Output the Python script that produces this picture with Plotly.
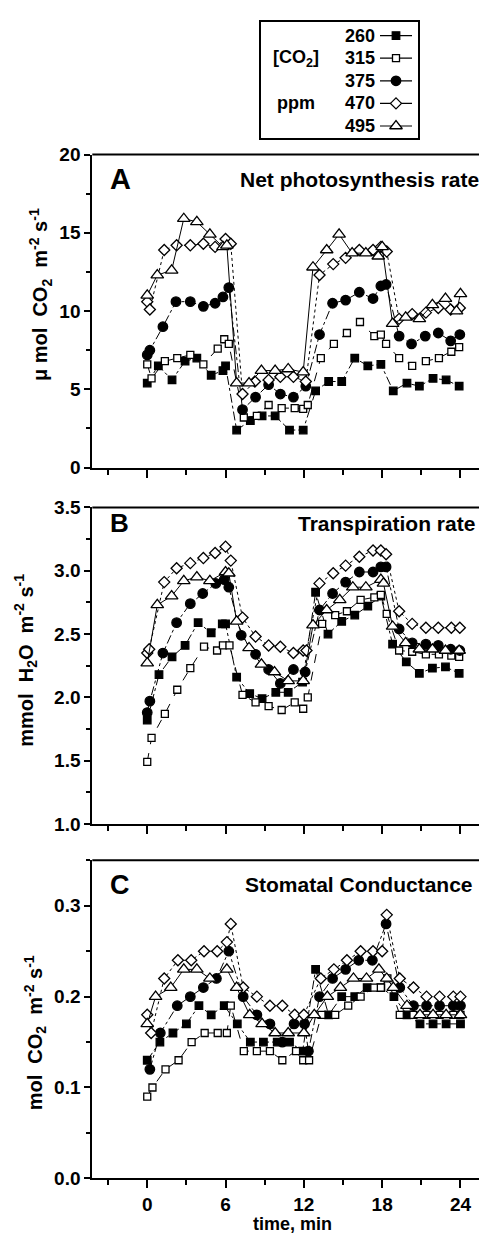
import plotly.graph_objects as go

W, H = 479, 1239

# ---------------- data ----------------
SERIES = ["260", "315", "375", "470", "495"]

# Panel A: Net photosynthesis rate (umol CO2 m-2 s-1)
A_260_t = [0, 0.85, 1.9, 2.9, 3.8, 4.9, 5.8, 6.0, 6.85, 7.9, 8.8, 9.8, 10.9, 11.95, 12.9, 13.9, 14.9, 15.9, 16.9, 17.9, 18.85, 19.9, 20.85, 21.9, 22.9, 23.9]
A_260_v = [5.4, 6.5, 5.6, 6.8, 7.0, 5.9, 6.2, 6.5, 2.4, 3.0, 3.3, 3.3, 2.4, 2.4, 4.9, 5.5, 5.5, 7.0, 6.5, 6.6, 4.9, 5.4, 5.2, 5.7, 5.6, 5.2]
A_315_t = [0, 0.33, 1.35, 2.3, 3.3, 4.3, 5.4, 5.9, 6.25, 7.4, 8.4, 9.3, 10.3, 11.3, 11.95, 12.3, 13.3, 14.3, 15.3, 16.3, 17.4, 17.9, 18.3, 19.3, 20.3, 21.35, 22.35, 23.3, 23.9]
A_315_v = [6.6, 5.7, 6.8, 7.0, 7.2, 6.6, 7.6, 8.2, 7.9, 3.2, 3.3, 4.0, 3.8, 3.8, 3.75, 4.0, 7.0, 7.9, 8.6, 9.3, 8.4, 8.5, 7.9, 7.0, 6.5, 6.8, 7.0, 7.4, 7.7]
A_375_t = [0, 0.2, 1.2, 2.2, 3.3, 4.3, 5.2, 5.8, 6.25, 7.3, 8.3, 9.3, 10.2, 11.2, 12.15, 13.2, 14.2, 15.2, 16.25, 17.3, 17.9, 18.3, 19.3, 20.25, 21.3, 22.3, 23.25, 23.95]
A_375_v = [7.2, 7.5, 9.0, 10.6, 10.6, 10.3, 10.5, 10.9, 11.5, 3.7, 4.5, 5.3, 4.7, 4.5, 5.2, 8.5, 10.5, 10.7, 11.2, 10.8, 11.6, 11.7, 8.4, 7.9, 8.4, 8.6, 8.1, 8.5]
A_470_t = [0, 0.2, 1.3, 2.25, 3.3, 4.3, 5.2, 6.0, 6.4, 7.3, 8.25, 9.3, 10.2, 11.2, 12.15, 13.2, 14.25, 15.2, 16.25, 17.3, 17.9, 18.35, 19.3, 20.3, 21.35, 22.3, 23.25, 23.95]
A_470_v = [10.6, 10.1, 13.9, 14.2, 14.2, 14.3, 14.1, 14.6, 14.3, 4.7, 5.5, 5.6, 5.8, 5.8, 5.5, 12.3, 13.0, 13.4, 13.9, 13.9, 14.1, 13.8, 9.5, 9.8, 9.9, 10.2, 10.1, 10.2]
A_495_t = [0, 0.77, 1.87, 2.8, 3.8, 4.8, 5.8, 6.1, 6.85, 7.8, 8.75, 9.8, 10.8, 11.95, 12.7, 13.75, 14.7, 15.7, 16.75, 17.7, 18.0, 18.8, 19.8, 20.85, 21.85, 22.85, 23.7, 24.0]
A_495_v = [11.0, 12.3, 12.6, 15.9, 15.7, 14.9, 14.1, 14.2, 5.4, 5.4, 6.2, 6.2, 6.3, 6.1, 12.8, 13.9, 14.9, 13.7, 13.7, 13.5, 14.1, 9.2, 9.6, 9.5, 10.4, 10.8, 10.0, 11.1]

# Panel B: Transpiration rate (mmol H2O m-2 s-1)
B_260_t = [0, 0.9, 1.9, 2.9, 3.9, 4.9, 5.75, 6.0, 6.85, 7.85, 8.8, 9.85, 10.8, 11.9, 12.9, 13.85, 14.9, 15.9, 16.9, 17.9, 18.8, 19.85, 20.85, 21.85, 22.85, 23.9]
B_260_v = [1.82, 2.18, 2.32, 2.41, 2.59, 2.51, 2.58, 2.58, 2.16, 2.03, 1.99, 2.04, 2.04, 2.12, 2.83, 2.50, 2.60, 2.65, 2.72, 2.80, 2.42, 2.28, 2.19, 2.23, 2.24, 2.19]
B_315_t = [0, 0.33, 1.35, 2.3, 3.3, 4.35, 5.35, 5.8, 6.3, 7.3, 8.3, 9.3, 10.3, 11.3, 11.95, 12.3, 13.4, 14.4, 15.3, 16.35, 17.4, 17.9, 18.35, 19.3, 20.3, 21.35, 22.35, 23.3, 23.9]
B_315_v = [1.49, 1.68, 1.87, 2.06, 2.23, 2.40, 2.37, 2.41, 2.41, 2.02, 1.96, 1.93, 1.90, 1.96, 1.91, 2.00, 2.58, 2.65, 2.68, 2.77, 2.79, 2.81, 2.66, 2.37, 2.36, 2.34, 2.34, 2.33, 2.32]
B_375_t = [0, 0.2, 1.2, 2.25, 3.3, 4.25, 5.25, 5.9, 6.25, 7.2, 8.3, 9.3, 10.2, 11.2, 12.1, 13.2, 14.2, 15.2, 16.25, 17.3, 17.9, 18.3, 19.3, 20.3, 21.35, 22.3, 23.25, 23.95]
B_375_v = [1.88, 1.97, 2.35, 2.59, 2.74, 2.82, 2.90, 2.93, 2.87, 2.49, 2.34, 2.22, 2.11, 2.22, 2.20, 2.69, 2.82, 2.91, 2.99, 2.99, 3.03, 3.03, 2.54, 2.43, 2.42, 2.41, 2.38, 2.37]
B_470_t = [0, 0.15, 1.3, 2.25, 3.3, 4.3, 5.2, 6.0, 6.4, 7.3, 8.3, 9.3, 10.2, 11.2, 11.95, 12.2, 13.2, 14.25, 15.2, 16.25, 17.3, 17.9, 18.3, 19.3, 20.3, 21.35, 22.3, 23.3, 23.95]
B_470_v = [2.35, 2.38, 2.91, 3.02, 3.06, 3.10, 3.14, 3.19, 3.08, 2.63, 2.48, 2.41, 2.40, 2.35, 2.37, 2.37, 2.90, 2.98, 3.04, 3.11, 3.16, 3.16, 3.13, 2.68, 2.58, 2.55, 2.55, 2.55, 2.55]
B_495_t = [0, 0.77, 1.87, 2.8, 3.8, 4.8, 6.0, 6.25, 6.85, 7.8, 8.75, 9.75, 10.8, 11.95, 12.7, 13.75, 14.75, 15.75, 16.75, 17.9, 18.1, 18.8, 19.8, 20.85, 21.85, 22.85, 23.9]
B_495_v = [2.27, 2.73, 2.80, 2.92, 2.95, 2.92, 2.99, 2.98, 2.60, 2.39, 2.26, 2.20, 2.13, 2.13, 2.57, 2.69, 2.77, 2.87, 2.87, 2.93, 2.90, 2.56, 2.43, 2.38, 2.38, 2.37, 2.37]

# Panel C: Stomatal conductance (mol CO2 m-2 s-1)
C_260_t = [0, 0.97, 1.97, 3.0, 3.96, 4.9, 5.9, 6.9, 7.9, 8.9, 9.96, 10.9, 11.9, 12.9, 13.9, 14.9, 15.9, 16.85, 17.9, 18.9, 19.9, 20.9, 21.9, 22.9, 24.0]
C_260_v = [0.13, 0.15, 0.16, 0.17, 0.19, 0.18, 0.19, 0.17, 0.15, 0.15, 0.15, 0.15, 0.14, 0.23, 0.18, 0.20, 0.20, 0.21, 0.21, 0.20, 0.18, 0.17, 0.17, 0.17, 0.17]
C_315_t = [0, 0.4, 1.4, 2.4, 3.4, 4.4, 5.4, 6.1, 6.4, 7.4, 8.4, 9.4, 10.35, 11.4, 11.95, 12.4, 13.35, 14.4, 15.4, 16.35, 17.4, 17.9, 18.4, 19.35, 20.4, 21.4, 22.4, 23.45, 24.0]
C_315_v = [0.09, 0.10, 0.12, 0.13, 0.15, 0.16, 0.16, 0.16, 0.19, 0.14, 0.14, 0.14, 0.13, 0.14, 0.13, 0.13, 0.18, 0.18, 0.19, 0.20, 0.21, 0.21, 0.22, 0.18, 0.18, 0.18, 0.18, 0.18, 0.18]
C_375_t = [0.2, 1.0, 2.3, 3.3, 4.3, 5.3, 6.25, 7.35, 8.4, 9.4, 10.35, 11.25, 12.05, 12.35, 13.2, 14.2, 15.2, 16.2, 17.25, 18.3, 19.35, 20.4, 21.4, 22.4, 23.45, 24.0]
C_375_v = [0.12, 0.16, 0.19, 0.20, 0.21, 0.22, 0.25, 0.20, 0.18, 0.17, 0.15, 0.17, 0.17, 0.14, 0.20, 0.22, 0.23, 0.24, 0.24, 0.28, 0.21, 0.19, 0.19, 0.19, 0.19, 0.19]
C_470_t = [0, 0.3, 1.3, 2.35, 3.37, 4.35, 5.36, 6.1, 6.4, 7.35, 8.4, 9.4, 10.35, 11.3, 12.0, 13.3, 14.3, 15.3, 16.35, 17.3, 18.0, 18.35, 19.35, 20.4, 21.4, 22.4, 23.45, 24.0]
C_470_v = [0.18, 0.16, 0.22, 0.24, 0.24, 0.25, 0.25, 0.26, 0.28, 0.21, 0.20, 0.19, 0.19, 0.18, 0.18, 0.22, 0.23, 0.24, 0.25, 0.25, 0.25, 0.29, 0.22, 0.21, 0.20, 0.20, 0.20, 0.20]
C_495_t = [0, 0.64, 1.8, 2.8, 3.8, 4.8, 6.1, 6.85, 7.85, 8.8, 9.8, 10.8, 12.0, 12.8, 13.8, 14.8, 15.8, 16.8, 17.75, 18.35, 18.85, 19.9, 20.9, 21.9, 22.9, 24.0]
C_495_v = [0.17, 0.20, 0.21, 0.23, 0.23, 0.22, 0.23, 0.21, 0.18, 0.17, 0.16, 0.16, 0.16, 0.18, 0.20, 0.21, 0.22, 0.22, 0.23, 0.22, 0.21, 0.19, 0.18, 0.18, 0.18, 0.18]

PANEL_LETTERS = ["A", "B", "C"]
PANEL_TITLES = ["Net photosynthesis rate", "Transpiration rate", "Stomatal Conductance"]
Y_TITLES = ["\u03bc mol\u00a0\u00a0CO<sub>2</sub>\u00a0\u00a0m<sup>-2</sup> s<sup>-1</sup>",
            "mmol\u00a0\u00a0H<sub>2</sub>O\u00a0\u00a0m<sup>-2</sup> s<sup>-1</sup>",
            "mol\u00a0\u00a0CO<sub>2</sub>\u00a0\u00a0m<sup>-2</sup> s<sup>-1</sup>"]
X_TICKS = [0, 6, 12, 18, 24]
X_TITLE = "time, min"

PANEL_DATA = [
    [(A_260_t, A_260_v), (A_315_t, A_315_v), (A_375_t, A_375_v), (A_470_t, A_470_v), (A_495_t, A_495_v)],
    [(B_260_t, B_260_v), (B_315_t, B_315_v), (B_375_t, B_375_v), (B_470_t, B_470_v), (B_495_t, B_495_v)],
    [(C_260_t, C_260_v), (C_315_t, C_315_v), (C_375_t, C_375_v), (C_470_t, C_470_v), (C_495_t, C_495_v)],
]

# ---------------- styles ----------------
STYLE = {
    "260": dict(symbol="square", size=7.5, fill="black", dash="dashdot"),
    "315": dict(symbol="square", size=7, fill="white", dash="dash"),
    "375": dict(symbol="circle", size=9.5, fill="black", dash="dashdot"),
    "470": dict(symbol="diamond", size=8.5, fill="white", dash="dot"),
    "495": dict(symbol="triangle-up", size=11, fill="white", dash="solid"),
}

FONT = "Liberation Sans, Arial, sans-serif"


def py(p):
    return 1 - p / H


def px(p):
    return p / W


X_DOM = [px(92.3), 1.0]
PANEL_PIX = [(147, 465.5), (506, 828), (865, 1188.5)]
Y_RANGES = [[0, 20], [1, 3.5], [0, 0.35]]
Y_DTICK = [5, 0.5, 0.1]
Y_FMT = ["d", ".1f", ".1f"]
X_RANGE = [-4.21, 25.42]

fig = go.Figure()

for i, series in enumerate(PANEL_DATA):
    xa = "x" if i == 0 else f"x{i+1}"
    ya = "y" if i == 0 else f"y{i+1}"
    for name, (t, v) in zip(SERIES, series):
        s = STYLE[name]
        fig.add_trace(go.Scatter(
            x=t, y=v, mode="lines+markers", xaxis=xa, yaxis=ya, showlegend=False,
            line=dict(color="black", width=1, dash=s["dash"]),
            marker=dict(symbol=s["symbol"], size=s["size"], color=s["fill"],
                        line=dict(color="black", width=1.3)),
            cliponaxis=False,
        ))

layout = dict(
    width=W, height=H, margin=dict(l=0, r=0, t=0, b=0),
    paper_bgcolor="white", plot_bgcolor="white", showlegend=False,
    font=dict(family=FONT, color="black"),
)

shapes = []
annotations = []
for i in range(3):
    top, bot = PANEL_PIX[i]
    xk = "xaxis" if i == 0 else f"xaxis{i+1}"
    yk = "yaxis" if i == 0 else f"yaxis{i+1}"
    ya = "y" if i == 0 else f"y{i+1}"
    layout[xk] = dict(
        domain=X_DOM, range=X_RANGE, anchor=ya, showline=True, linewidth=2, linecolor="black",
        ticks="outside", tickmode="array", tickvals=X_TICKS, ticklen=8, tickwidth=2, tickcolor="black",
        minor=dict(tickmode="linear", tick0=0, dtick=3, ticks="outside", ticklen=5, tickwidth=1.5, tickcolor="black"),
        showgrid=False, zeroline=False, showticklabels=(i == 2),
        tickfont=dict(family=FONT, size=19, weight="bold", color="black"),
        fixedrange=True,
    )
    layout[yk] = dict(
        domain=[py(bot), py(top)], range=Y_RANGES[i], anchor="x" if i == 0 else f"x{i+1}",
        showline=True, linewidth=2, linecolor="black",
        ticks="outside", tick0=0, dtick=Y_DTICK[i], ticklen=6, tickwidth=2, tickcolor="black",
        minor=dict(dtick=Y_DTICK[i] / 2, ticks="outside", ticklen=4, tickwidth=1.5, tickcolor="black"),
        tickformat=Y_FMT[i], showgrid=False, zeroline=False,
        tickfont=dict(family=FONT, size=19, weight="bold", color="black"),
        fixedrange=True,
    )
    shapes.append(dict(type="line", xref="paper", yref="paper", x0=X_DOM[0], x1=1.0,
                       y0=py(top), y1=py(top), line=dict(color="black", width=2)))

# panel letters and titles
LETTER_POS = [(108, 172, 29), (108, 522, 26), (108, 890, 27)]
TITLE_POS = [(238, 172), (296, 522), (243, 890)]
YT_POS = [(40, 290), (26, 662), (35, 1041)]
for i in range(3):
    lx, ly, ls = LETTER_POS[i]
    annotations.append(dict(text="<b>%s</b>" % PANEL_LETTERS[i], x=px(lx), y=py(ly), xref="paper", yref="paper",
                            xanchor="left", yanchor="middle", showarrow=False,
                            font=dict(family=FONT, size=ls, color="black")))
    tx, ty = TITLE_POS[i]
    annotations.append(dict(text="<b>%s</b>" % PANEL_TITLES[i], x=px(tx), y=py(ty), xref="paper", yref="paper",
                            xanchor="left", yanchor="middle", showarrow=False,
                            font=dict(family=FONT, size=21, color="black")))
    ax, ay = YT_POS[i]
    annotations.append(dict(text="<b>%s</b>" % Y_TITLES[i], x=px(ax), y=py(ay), xref="paper", yref="paper",
                            xanchor="center", yanchor="middle", textangle=-90, showarrow=False,
                            font=dict(family=FONT, size=20, color="black")))

annotations.append(dict(text="<b>%s</b>" % X_TITLE, x=px(292), y=py(1235), xref="paper", yref="paper",
                        xanchor="center", yanchor="middle", showarrow=False,
                        font=dict(family=FONT, size=18, color="black")))

# ---------------- legend box ----------------
LEG_X = [261, 418]
LEG_Y = [12, 130]
ROW0, ROW_STEP = 26, 23
layout["xaxis4"] = dict(domain=[px(LEG_X[0]), px(LEG_X[1])], range=LEG_X, anchor="y4",
                        showline=True, mirror=True, linewidth=1.5, linecolor="black",
                        showticklabels=False, ticks="", showgrid=False, zeroline=False, fixedrange=True)
layout["yaxis4"] = dict(domain=[py(LEG_Y[1]), py(LEG_Y[0])],
                        range=[(LEG_Y[1] - ROW0) / ROW_STEP, (LEG_Y[0] - ROW0) / ROW_STEP], anchor="x4",
                        showline=True, mirror=True, linewidth=1.5, linecolor="black",
                        showticklabels=False, ticks="", showgrid=False, zeroline=False, fixedrange=True)

for r, name in enumerate(SERIES):
    s = STYLE[name]
    fig.add_trace(go.Scatter(x=[380, 412], y=[r, r], mode="lines", xaxis="x4", yaxis="y4",
                             line=dict(color="black", width=1.2), showlegend=False, hoverinfo="skip"))
    fig.add_trace(go.Scatter(x=[396], y=[r], mode="markers", xaxis="x4", yaxis="y4", showlegend=False,
                             marker=dict(symbol=s["symbol"], size=s["size"], color=s["fill"],
                                         line=dict(color="black", width=1.3)), hoverinfo="skip"))
    annotations.append(dict(text="<b>%s</b>" % name, x=377, y=r, xref="x4", yref="y4",
                            xanchor="right", yanchor="middle", showarrow=False,
                            font=dict(family=FONT, size=18, color="black")))

annotations.append(dict(text="<b>[CO<sub>2</sub>]</b>", x=296, y=1, xref="x4", yref="y4",
                        xanchor="center", yanchor="middle", showarrow=False,
                        font=dict(family=FONT, size=18, color="black")))
annotations.append(dict(text="<b>ppm</b>", x=296, y=3, xref="x4", yref="y4",
                        xanchor="center", yanchor="middle", showarrow=False,
                        font=dict(family=FONT, size=18, color="black")))

layout["shapes"] = shapes
layout["annotations"] = annotations
fig.update_layout(**layout)

fig.write_html("out.html", config={"displayModeBar": False},
               post_script="document.body.style.margin='0';document.body.style.overflow='hidden';")
